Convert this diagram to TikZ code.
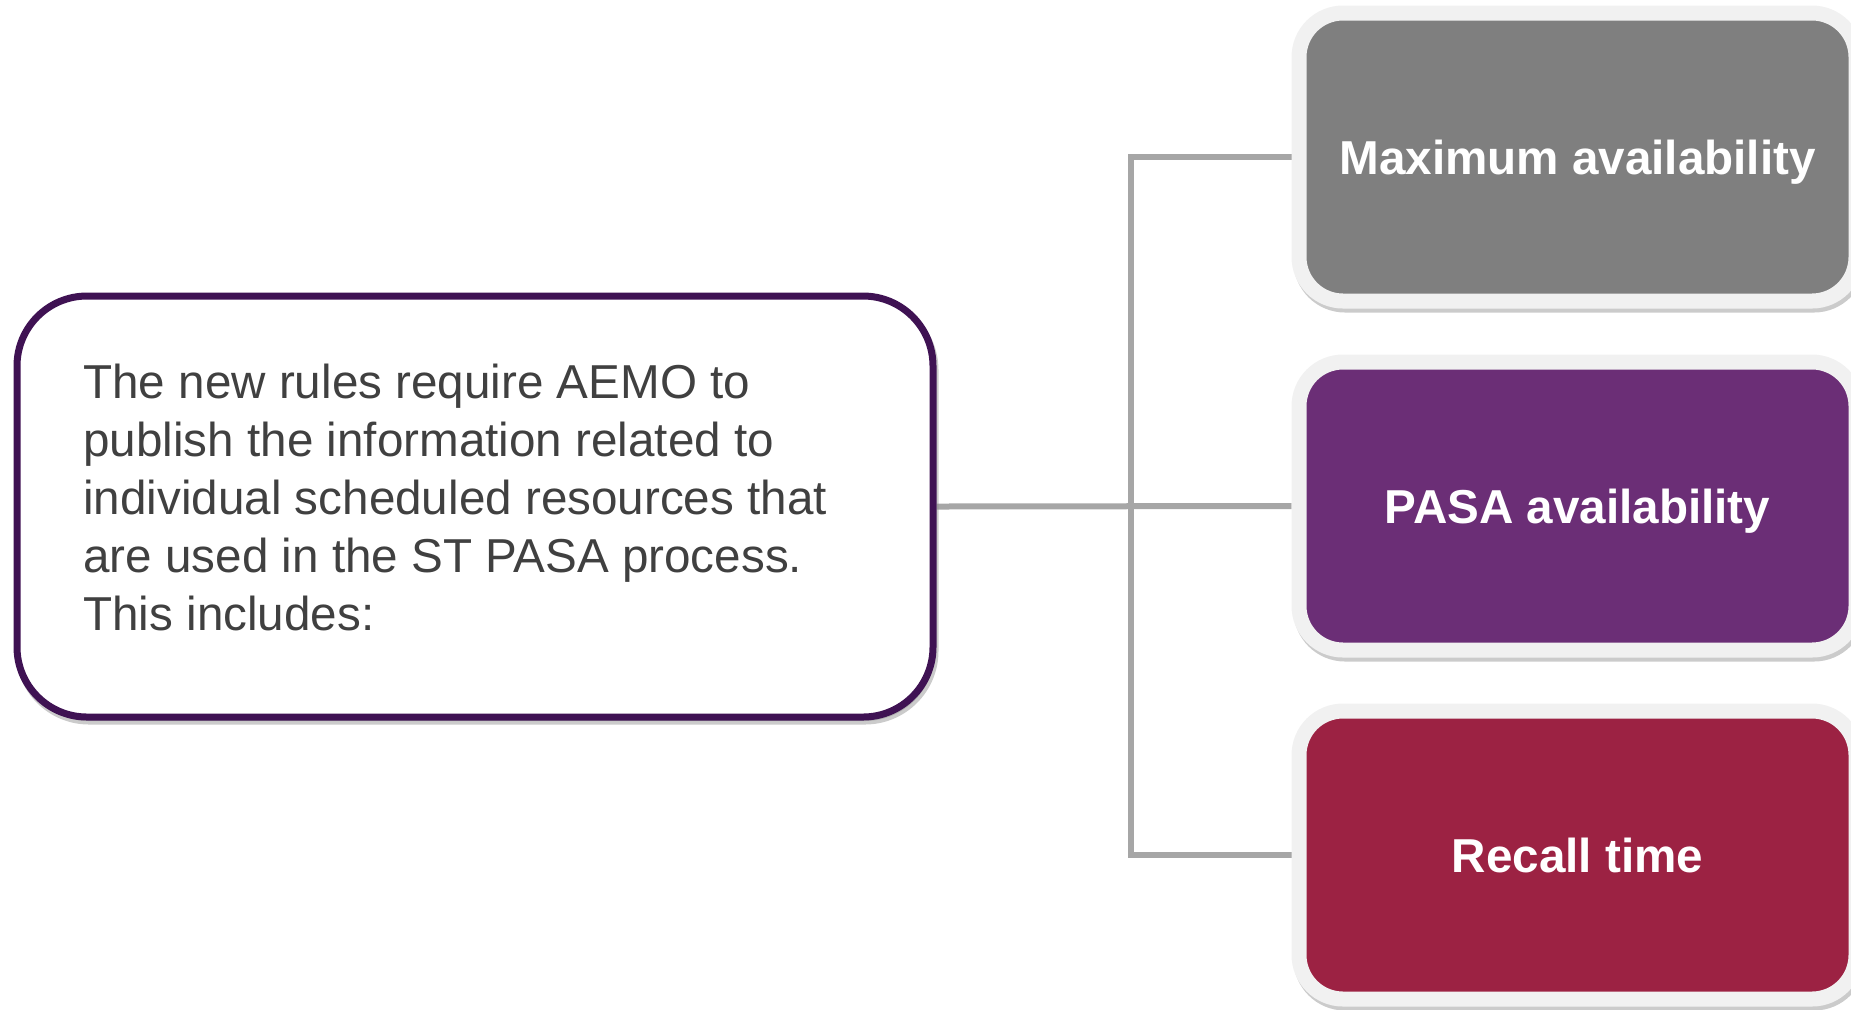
\documentclass[tikz,border=0pt]{standalone}
\usepackage{fontspec}
\setmainfont{Liberation Sans}
\usetikzlibrary{shadows,backgrounds}
\definecolor{boxgrey}{HTML}{7F7F7F}
\definecolor{boxpurple}{HTML}{6B2E76}
\definecolor{boxred}{HTML}{9C2243}
\definecolor{edgepurple}{HTML}{3F1253}
\definecolor{rimgrey}{HTML}{F1F1F1}
\definecolor{linkgrey}{HTML}{A6A6A6}
\definecolor{textgrey}{HTML}{404040}
\begin{document}
\begin{tikzpicture}[x=0.5pt,y=-0.5pt,
	softshadow/.style={drop shadow={shadow xshift=1pt,shadow yshift=-2pt,opacity=0.45,fill=black!45,draw=black!45,line width=#1}},
	item/.style={draw=rimgrey,line width=7.5pt,rounded corners=22pt,minimum width=278.5pt,minimum height=144pt,
		text=white,text depth=0pt,font=\fontsize{23.8}{29}\selectfont\bfseries,softshadow=7.5pt},
	link/.style={draw=linkgrey,line width=3pt}]
				            \useasboundingbox (0,0) rectangle (1851,1009);
				            \node[draw=edgepurple,line width=3.5pt,rounded corners=35pt,fill=white,minimum width=458pt,minimum height=210.5pt,
				            	softshadow=3.5pt] (info) at (475,506.5) {};
				            \node[anchor=north west,align=left,text=textgrey,font=\fontsize{23.8}{29}\selectfont,inner sep=0pt] (info_text) at (83,364)
				            	{The new rules require AEMO to\\publish the information related to\\individual scheduled resources that\\are used in the ST PASA process.\\This includes:};
				            \node[item,fill=boxgrey] (max_av) at (1577.5,157) {Maximum availability};
				            \node[item,fill=boxpurple] (pasa_av) at (1577.5,506) {PASA availability};
				            \node[item,fill=boxred] (recall_t) at (1577.5,855) {Recall time};
				            \coordinate (hub) at (1131,506);
				            \begin{scope}[on background layer]
				            	\path[link] (info.east) -- (pasa_av.west);
				            	\path[link] (max_av.west) -| (hub) |- (recall_t.west);
				            \end{scope}
			            \end{tikzpicture}
\end{document}
